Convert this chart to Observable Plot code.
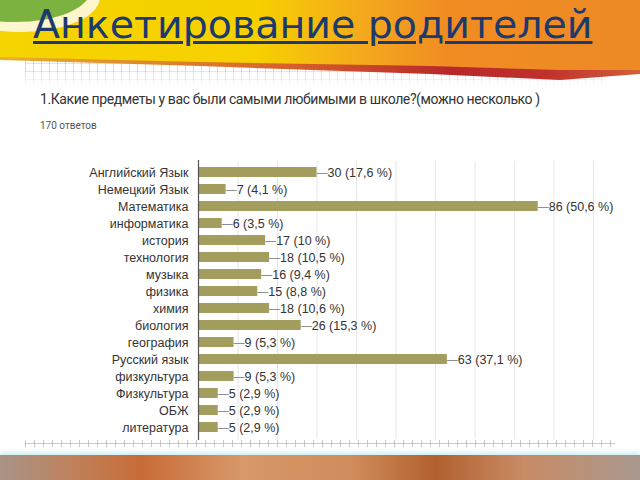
<!DOCTYPE html>
<html>
<head>
<meta charset="utf-8">
<script src="https://cdn.jsdelivr.net/npm/d3@7"></script>
<script src="https://cdn.jsdelivr.net/npm/@observablehq/plot@0.6"></script>
<style>
  html, body { margin: 0; padding: 0; background: #fff; }
  #page { position: relative; width: 640px; height: 480px; overflow: hidden; background: #fff; }
  .grid-top { position: absolute; left: 25px; top: 58px; width: 580px; height: 30px;
    background-image:
      repeating-linear-gradient(90deg, rgba(150,150,150,0.35) 0 1px, transparent 1px 8px),
      repeating-linear-gradient(0deg, rgba(150,150,150,0.25) 0 1px, transparent 1px 8px);
    -webkit-mask-image: linear-gradient(180deg, #000 40%, transparent 100%);
    mask-image: linear-gradient(180deg, #000 40%, transparent 100%); }
  .red { position: absolute; left: 0; top: 0; width: 640px; height: 90px;
    background: linear-gradient(90deg, #e8b030 0%, #d8602a 45%, #b8282a 70%, #c0302c 85%, #d0603a 100%);
    clip-path: polygon(0 0, 640px 0, 640px 74px, 560px 80px, 430px 74px, 200px 66px, 0 60px); }
  .header { position: absolute; left: 0; top: 0; width: 640px; height: 90px;
    background: linear-gradient(90deg, #f5d400 0%, #f7d000 40%, #f4a61e 58%, #f08c22 70%, #ee8a24 100%);
    clip-path: polygon(0 0, 640px 0, 640px 70px, 560px 70px, 430px 66px, 200px 62px, 0 57px); }
  .green { position: absolute; left: -60px; top: -40px; width: 150px; height: 62px; border-radius: 50%;
    background: #7cb240; box-shadow: 6px 6px 0 4px rgba(255,255,255,0.8); }
  .title { position: absolute; left: 33px; top: 4px; font-family: "DejaVu Sans", sans-serif;
    font-size: 39.5px; line-height: 40px; color: #1c3a6e; text-decoration: underline; text-decoration-thickness: 3px;
    text-underline-offset: 3px; white-space: nowrap; }
  .subtitle { position: absolute; left: 40px; top: 91px; font-family: Roboto, sans-serif; font-size: 14px;
    color: #333; letter-spacing: -0.4px; white-space: nowrap; }
  .count { position: absolute; left: 40px; top: 120px; font-family: Roboto, sans-serif; font-size: 10px;
    color: #555; white-space: nowrap; }
  #chart { position: absolute; left: 0; top: 150px; }
  .grid-bottom { position: absolute; left: 25px; top: 440px; width: 590px; height: 7px;
    background-image:
      linear-gradient(0deg, transparent 3px, rgba(150,150,150,0.5) 3px 4px, transparent 4px),
      repeating-linear-gradient(90deg, rgba(150,150,150,0.5) 0 1px, transparent 1px 9px); }
  .footer { position: absolute; left: 0; top: 455px; width: 640px; height: 25px;
    background: linear-gradient(90deg, #a89486 0%, #c0805a 12%, #c86c38 22%, #d8986a 38%, #cf8c5c 55%, #b2602e 68%, #c88c66 82%, #a8988e 100%);
    box-shadow: 0 -3px 4px rgba(180,230,235,0.6); }
</style>
</head>
<body>
<div id="page">
  <div class="grid-top"></div>
  <div class="red"></div>
  <div class="header"></div>
  <div class="green"></div>
  <div class="title">Анкетирование родителей</div>
  <div class="subtitle">1.Какие предметы у вас были самыми любимыми в школе?(можно несколько )</div>
  <div class="count">170 ответов</div>
  <div id="chart"></div>
  <div class="grid-bottom"></div>
  <div class="footer"></div>
</div>
<script>
const subjects = ["Английский Язык", "Немецкий Язык", "Математика", "информатика", "история", "технология",
  "музыка", "физика", "химия", "биология", "география", "Русский язык", "физкультура", "Физкультура", "ОБЖ", "литература"];
const counts = [30, 7, 86, 6, 17, 18, 16, 15, 18, 26, 9, 63, 9, 5, 5, 5];
const percents = ["17,6", "4,1", "50,6", "3,5", "10", "10,5", "9,4", "8,8", "10,6", "15,3", "5,3", "37,1", "5,3", "2,9", "2,9", "2,9"];
const xTicks = [0, 10, 20, 30, 40, 50, 60, 70, 80, 90, 100];

const data = subjects.map((s, i) => ({subject: s, count: counts[i], label: `${counts[i]} (${percents[i]} %)`}));

const chart = Plot.plot({
  width: 640,
  height: 300,
  marginLeft: 198,
  marginRight: 47,
  marginTop: 11,
  marginBottom: 11,
  style: {fontFamily: "'Liberation Sans', Arial, sans-serif", fontSize: "12.5px", background: "transparent"},
  x: {domain: [0, 100], axis: null},
  y: {domain: subjects, paddingInner: 0.4, paddingOuter: 0.2, axis: null},
  marks: [
    Plot.ruleX(xTicks.slice(1), {stroke: "#e6e6e6", strokeWidth: 1}),
    Plot.barX(data, {x: "count", y: "subject", fill: "#a39d5e"}),
    Plot.ruleX([0], {stroke: "#555", strokeWidth: 1.2, insetTop: -1, insetBottom: -1}),
    Plot.text(data, {x: "count", y: "subject", text: () => "—", textAnchor: "start", fill: "#777", fontSize: 11, dx: -0.5}),
    Plot.text(data, {x: "count", y: "subject", text: "label", textAnchor: "start", fill: "#333", dx: 10.5}),
    Plot.text(data, {x: 0, y: "subject", text: "subject", textAnchor: "end", fill: "#333", dx: -10})
  ]
});
document.getElementById("chart").appendChild(chart);
</script>
</body>
</html>
